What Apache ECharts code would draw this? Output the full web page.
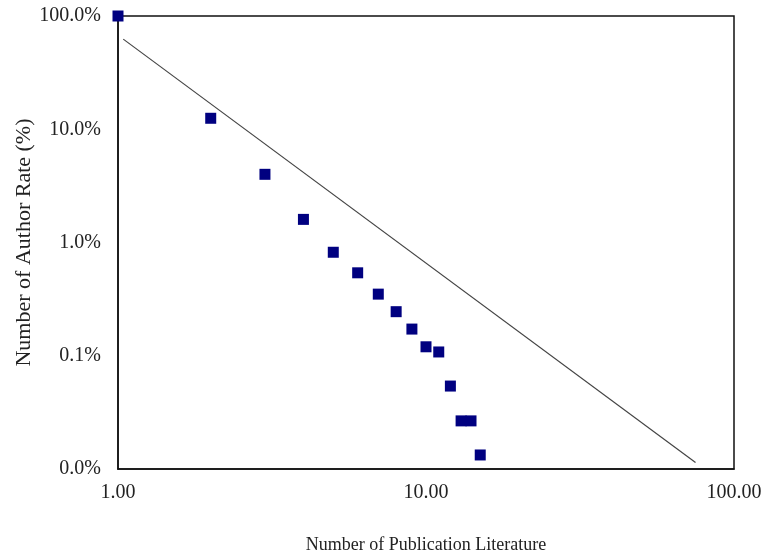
<!DOCTYPE html>
<html>
<head>
<meta charset="utf-8">
<script src="https://cdn.jsdelivr.net/npm/echarts@6/dist/echarts.min.js"></script>
<style>html,body{margin:0;padding:0;background:#fff;}#c{width:761px;height:555px;}</style>
</head>
<body>
<div id="c"></div>
<script>
// Number of publications per author
const publications = [1, 2, 3, 4, 5, 6, 7, 8, 9, 10, 11, 12, 13, 14, 15];
// Share of authors (%)
const authorRate = [100, 12.5, 4.0, 1.6, 0.82, 0.54, 0.35, 0.245, 0.172, 0.12, 0.108, 0.054, 0.0266, 0.0266, 0.0133];
// Fitted line endpoints (x, %)
const fitX = [1.04, 75];
const fitY = [62.5, 0.0114];
const xTicks = [1, 10, 100];
const yTicks = [0.01, 0.1, 1, 10, 100];

const font = '"Liberation Serif", "Times New Roman", serif';
const chart = echarts.init(document.getElementById('c'), null, {renderer: 'canvas'});
chart.setOption({
  animation: false,
  backgroundColor: '#fff',
  grid: {left: 118, right: 27, top: 16, bottom: 86, show: true, borderColor: '#111', borderWidth: 1.5,
         backgroundColor: 'transparent', outerBoundsMode: 'none', containLabel: false},
  xAxis: {
    type: 'log', logBase: 10, min: xTicks[0], max: xTicks[xTicks.length - 1],
    name: 'Number of Publication Literature', nameLocation: 'middle', nameGap: 67, nameMoveOverlap: false,
    nameTextStyle: {fontFamily: font, fontSize: 18, color: '#222'},
    axisLine: {show: true, lineStyle: {color: '#111', width: 1.5}},
    axisTick: {show: false}, splitLine: {show: false}, minorTick: {show: false},
    axisLabel: {fontFamily: font, fontSize: 20, color: '#222', margin: 14, formatter: v => Number(v).toFixed(2)}
  },
  yAxis: {
    type: 'log', logBase: 10, min: yTicks[0], max: yTicks[yTicks.length - 1],
    name: 'Number of Author Rate (%)', nameLocation: 'middle', nameGap: 83, nameRotate: 90, nameMoveOverlap: false,
    nameTextStyle: {fontFamily: font, fontSize: 22, color: '#222'},
    axisLine: {show: true, lineStyle: {color: '#111', width: 1.5}},
    axisTick: {show: false}, splitLine: {show: false},
    axisLabel: {fontFamily: font, fontSize: 20, color: '#222', margin: 17, formatter: v => Number(v).toFixed(1) + '%'}
  },
  series: [
    {
      type: 'line', data: fitX.map((x, i) => [x, fitY[i]]), symbol: 'none',
      lineStyle: {color: '#444', width: 1.2}, z: 2, silent: true
    },
    {
      type: 'scatter', data: publications.map((x, i) => [x, authorRate[i]]),
      symbol: 'rect', symbolSize: 11, itemStyle: {color: '#000080', opacity: 1}, clip: false, z: 3
    }
  ]
});
</script>
</body>
</html>
